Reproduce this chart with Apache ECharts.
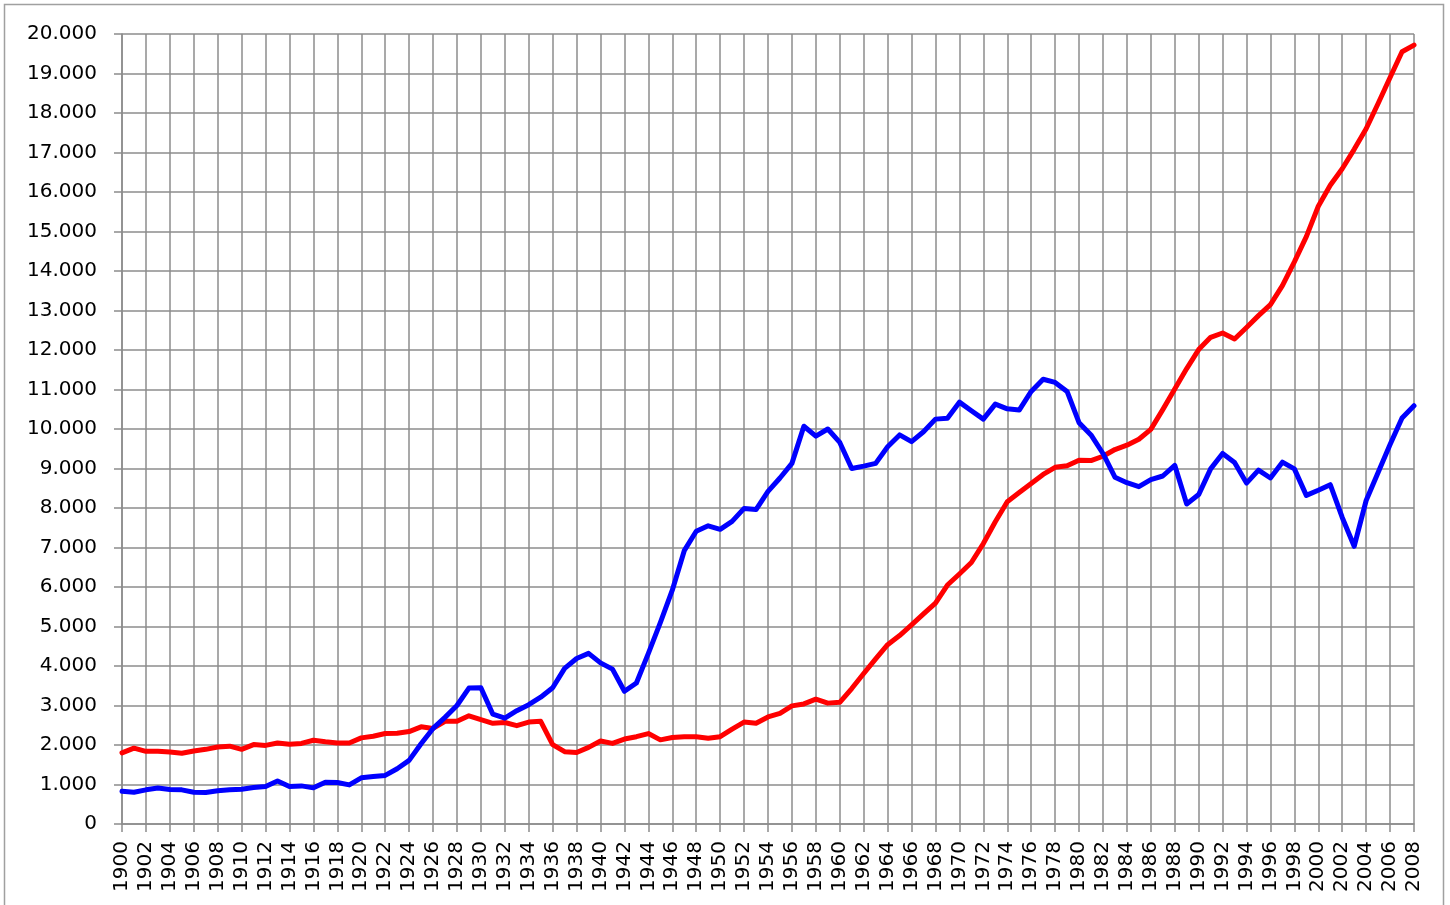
<!DOCTYPE html>
<html>
<head>
<meta charset="utf-8">
<script src="https://cdn.jsdelivr.net/npm/echarts@6/dist/echarts.min.js"></script>
<style>
html,body{margin:0;padding:0;background:#fff;}
#chart{width:1450px;height:905px;}
</style>
</head>
<body>
<div id="chart"></div>
<script>
// Years 1900..2008
var years = [];
for (var y = 1900; y <= 2008; y++) years.push(String(y));

// Red series
var redValues = [
  1800,1920,1840,1840,1820,1790,1850,1890,1950,1970,
  1890,2010,1990,2050,2020,2040,2120,2080,2050,2050,
  2180,2220,2290,2300,2340,2460,2420,2600,2600,2740,
  2640,2550,2570,2490,2580,2600,2010,1830,1810,1940,
  2100,2040,2150,2210,2290,2130,2190,2210,2210,2170,
  2210,2400,2580,2550,2710,2800,2990,3040,3160,3060,
  3080,3430,3810,4180,4540,4770,5040,5320,5590,6050,
  6330,6620,7100,7650,8160,8390,8620,8850,9030,9070,
  9210,9200,9310,9480,9590,9740,9990,10490,11010,11530,
  12010,12320,12430,12280,12570,12870,13150,13630,14230,14870,
  15640,16170,16590,17080,17600,18240,18900,19550,19720
];

// Blue series
var blueValues = [
  830,805,865,910,875,865,805,795,840,865,
  880,925,950,1090,950,965,915,1060,1050,990,
  1170,1200,1230,1400,1610,2030,2420,2700,3000,3440,
  3450,2780,2680,2870,3020,3210,3450,3940,4190,4320,
  4080,3920,3360,3570,4320,5100,5920,6920,7410,7550,
  7460,7660,7990,7960,8420,8760,9130,10070,9820,10000,
  9660,9000,9060,9130,9550,9850,9680,9930,10250,10270,
  10680,10460,10250,10630,10510,10480,10950,11260,11180,10950,
  10160,9850,9380,8780,8640,8540,8720,8810,9080,8100,
  8340,8990,9380,9150,8630,8960,8760,9160,8990,8320,
  8450,8590,7760,7030,8190,8900,9610,10280,10590
];

var yMin = 0, yMax = 20000, yStep = 1000;

function fmtThousands(v) {
  return String(v).replace(/\B(?=(\d{3})+(?!\d))/g, '.');
}

var chart = echarts.init(document.getElementById('chart'), null, {renderer: 'canvas'});
var gridColor = '#8c8c8c';
var font = 'DejaVu Sans';

chart.setOption({
  animation: false,
  backgroundColor: '#ffffff',
  graphic: [{
    type: 'rect',
    shape: {x: 4.5, y: 4.5, width: 1439, height: 920},
    style: {fill: 'none', stroke: '#a0a0a0', lineWidth: 1.5},
    silent: true
  }],
  grid: {left: 122, right: 36, top: 34, bottom: 81, containLabel: false},
  xAxis: {
    type: 'category',
    data: years,
    boundaryGap: false,
    axisLine: {show: true, lineStyle: {color: gridColor, width: 1.5}},
    axisTick: {show: true, interval: 1, length: 8, inside: false, lineStyle: {color: gridColor, width: 1.5}},
    axisLabel: {
      interval: 1, rotate: 90, margin: 17,
      color: '#000', fontFamily: font, fontSize: 20
    },
    splitLine: {show: true, interval: 1, lineStyle: {color: gridColor, width: 1.5}}
  },
  yAxis: {
    type: 'value',
    min: yMin, max: yMax, interval: yStep,
    axisLine: {show: true, lineStyle: {color: gridColor, width: 1.5}},
    axisTick: {show: true, length: 8, lineStyle: {color: gridColor, width: 1.5}},
    axisLabel: {
      margin: 25, color: '#000', fontFamily: font, fontSize: 20,
      formatter: function (v) { return fmtThousands(v); }
    },
    splitLine: {show: true, lineStyle: {color: gridColor, width: 1.5}}
  },
  series: [
    {
      type: 'line', data: redValues, symbol: 'none', smooth: false,
      lineStyle: {color: '#ff0000', width: 5, join: 'round', cap: 'round'},
      itemStyle: {color: '#ff0000'}
    },
    {
      type: 'line', data: blueValues, symbol: 'none', smooth: false,
      lineStyle: {color: '#0000ff', width: 5, join: 'round', cap: 'round'},
      itemStyle: {color: '#0000ff'}
    }
  ]
});
</script>
</body>
</html>
